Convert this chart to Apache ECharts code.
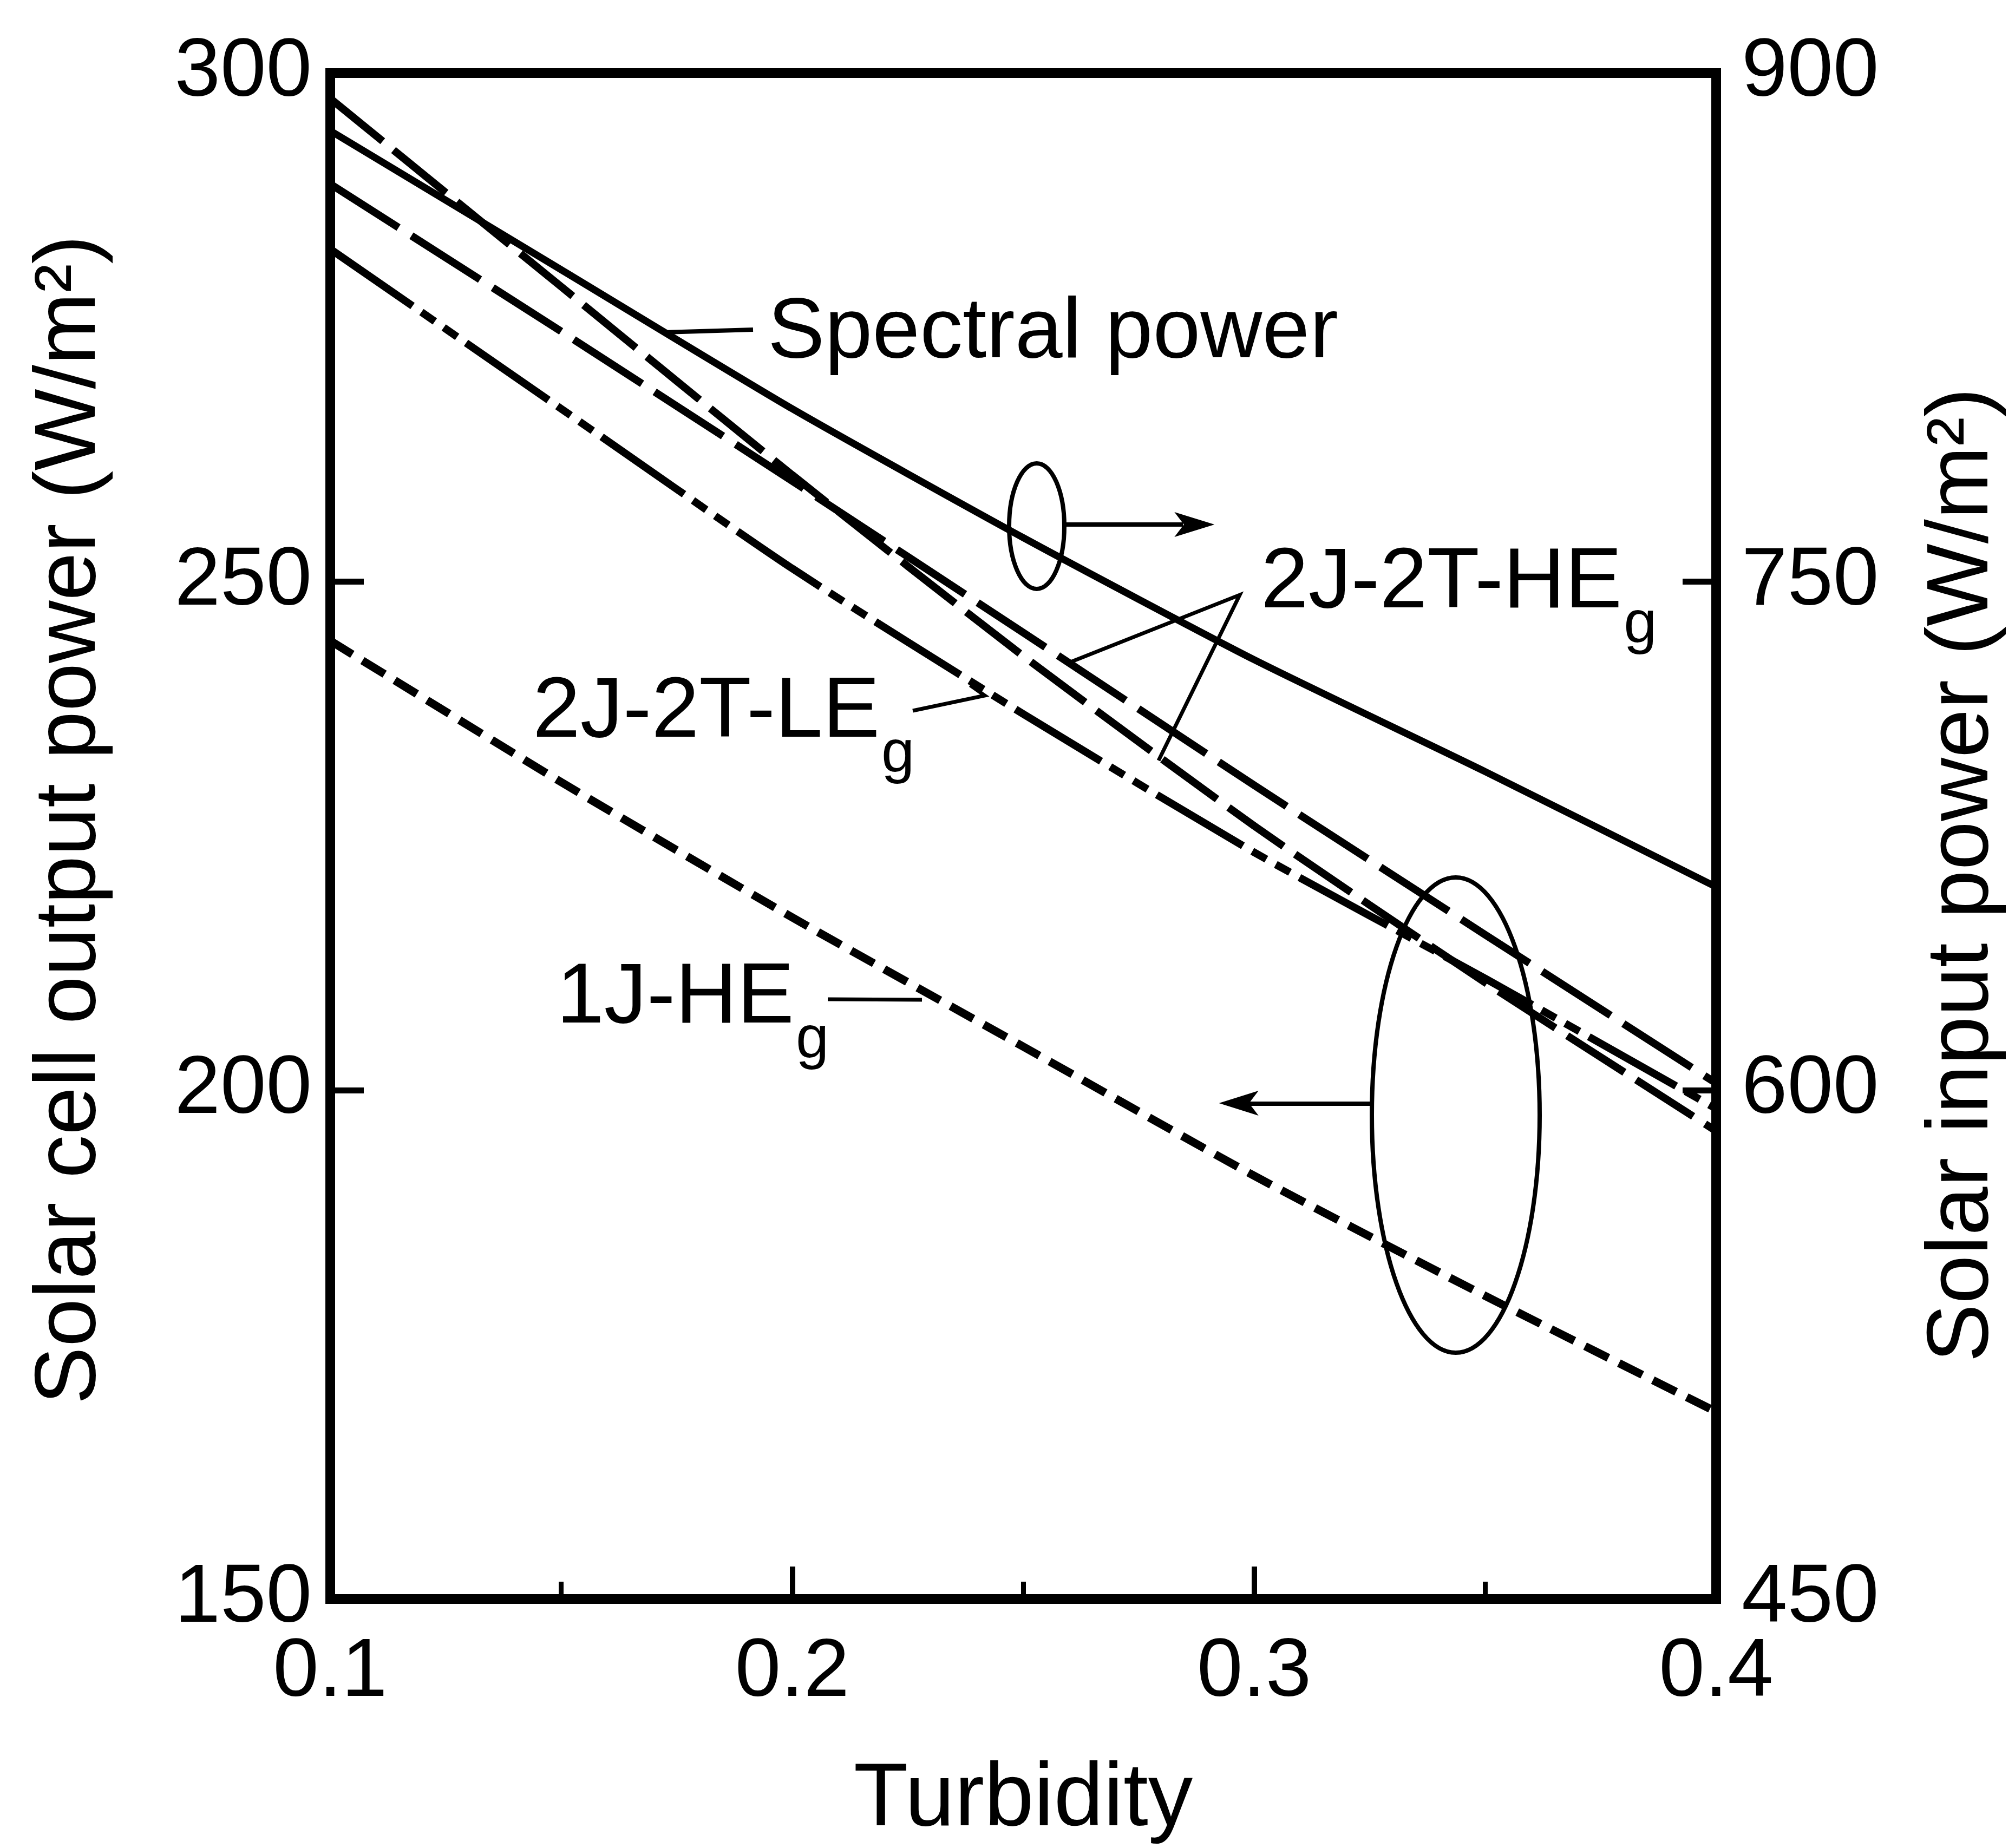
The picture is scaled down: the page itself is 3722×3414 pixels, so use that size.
<!DOCTYPE html>
<html><head><meta charset="utf-8">
<script src="https://cdn.jsdelivr.net/npm/echarts@6/dist/echarts.min.js"></script>
<style>html,body{margin:0;padding:0;background:#fff}#c{width:3722px;height:3414px}</style>
</head><body><div id="c"></div>
<script>
// ---- data ----
const turbidity = [0.1, 0.15, 0.2, 0.25, 0.3, 0.35, 0.4];
const spectralPower = [883, 842, 801, 763, 727, 694, 660];          // right axis (W/m2)
const hEg2J2T_upper = [289.1, 274.6, 259.9, 245.0, 230.0, 215.3, 200.7]; // left axis
const hEg2J2T_steep = [297.5, 279.0, 260.5, 242.7, 226.0, 210.6, 196.0];
const lEg2J2T = [282.7, 267.0, 251.3, 237.0, 223.4, 211.0, 198.2];
const hEg1J = [244.2, 230.3, 217.0, 204.3, 191.6, 179.8, 168.4];
const xTickLabels = ['0.1', '0.2', '0.3', '0.4'];
const leftTickLabels = ['150', '200', '250', '300'];
const rightTickLabels = ['450', '600', '750', '900'];

const FONT = '"Liberation Sans", Arial, Helvetica, sans-serif';
const pairs = (ys) => turbidity.map((x, i) => [x, ys[i]]);

const cv = document.createElement('canvas').getContext('2d');
function textW(s, size) { cv.font = size + 'px ' + FONT; return cv.measureText(s).width; }

const chart = echarts.init(document.getElementById('c'), null, {renderer: 'canvas'});

const axisCommon = {
  axisLine: {show: true, lineStyle: {color: '#000', width: 18, cap: 'square'}},
  splitLine: {show: false},
};

function txt(s, x, y, size) {
  return {type: 'text', x: x, y: y, z: 100,
    style: {text: s, font: size + 'px ' + FONT, fill: '#000',
      textAlign: 'left', textVerticalAlign: 'middle', align: 'left', verticalAlign: 'middle'}};
}
function line(points, w) {
  return {type: 'polyline', z: 100, shape: {points: points}, style: {stroke: '#000', lineWidth: w || 7, fill: 'none'}};
}
function ellipse(cx, cy, rx, ry) {
  return {type: 'ellipse', z: 100, shape: {cx: cx, cy: cy, rx: rx, ry: ry}, style: {stroke: '#000', lineWidth: 8, fill: 'none'}};
}
function poly(points) {
  return {type: 'polygon', z: 100, shape: {points: points}, style: {fill: '#000', stroke: '#000', lineWidth: 2}};
}

const MAIN = 158, SUB = 110;
function labelWithSub(main, x, capCenterY) {
  const w = textW(main, MAIN);
  const baseline = capCenterY + 57;
  return [txt(main, x, capCenterY, MAIN), txt('g', x + w + 3, baseline + 59 - 38, SUB)];
}

const graphics = [].concat(
  [txt('Spectral power', 1418, 616, MAIN), line([[1226, 614], [1391, 609]], 8)],
  [ellipse(1915, 972, 51, 116), line([[1966, 969], [2185, 969]], 8),
   poly([[2240, 969], [2172, 948], [2188, 969], [2172, 990]])],
  [ellipse(2689, 2060, 155, 439), line([[2536, 2039], [2300, 2039]], 8),
   poly([[2255, 2038], [2322, 2017], [2306, 2038], [2322, 2059]])],
  labelWithSub('2J-2T-HE', 2329, 1078),
  [line([[1970, 1226], [2290, 1099], [2140, 1405]], 7)],
  labelWithSub('2J-2T-LE', 984, 1317),
  [line([[1686, 1313], [1819, 1285], [1792, 1266]], 7)],
  labelWithSub('1J-HE', 1028, 1845),
  [line([[1529, 1846], [1703, 1847]], 7)]
);

const option = {
  backgroundColor: '#fff',
  animation: false,
  grid: {left: 610, right: 552, top: 135, bottom: 448, show: true, borderColor: '#000', borderWidth: 18},
  xAxis: Object.assign({}, axisCommon, {
    type: 'value', min: 0.1, max: 0.4, interval: 0.1,
    axisTick: {show: true, inside: true, length: 60, lineStyle: {color: '#000', width: 10}},
    minorTick: {show: true, splitNumber: 2, length: 32, lineStyle: {color: '#000', width: 9}},
    minorSplitLine: {show: false},
    axisLabel: {margin: 61, fontSize: 152, color: '#000', fontFamily: FONT,
      formatter: (v) => xTickLabels[Math.round((v - 0.1) / 0.1)]},
    name: 'Turbidity', nameLocation: 'middle', nameGap: 290,
    nameTextStyle: {fontSize: 165, color: '#000', fontFamily: FONT}
  }),
  yAxis: [
    Object.assign({}, axisCommon, {
      type: 'value', min: 150, max: 300, interval: 50, position: 'left',
      axisTick: {show: true, inside: true, length: 62, lineStyle: {color: '#000', width: 11}},
      axisLabel: {margin: 34, fontSize: 152, color: '#000', fontFamily: FONT,
        formatter: (v) => leftTickLabels[Math.round((v - 150) / 50)]},
      name: 'Solar cell output power (W/m²)', nameLocation: 'middle', nameGap: 399, nameRotate: 90,
      nameTextStyle: {fontSize: 160, color: '#000', fontFamily: FONT, padding: [0, 0, 0, 60]}
    }),
    Object.assign({}, axisCommon, {
      type: 'value', min: 450, max: 900, interval: 150, position: 'right',
      axisTick: {show: true, inside: true, length: 62, lineStyle: {color: '#000', width: 11}},
      axisLabel: {margin: 47, fontSize: 152, color: '#000', fontFamily: FONT,
        formatter: (v) => rightTickLabels[Math.round((v - 450) / 150)]},
      name: 'Solar input power (W/m²)', nameLocation: 'middle', nameGap: 375, nameRotate: 90,
      nameTextStyle: {fontSize: 162, color: '#000', fontFamily: FONT, padding: [0, 144, 0, 0]}
    })
  ],
  series: [
    {name: 'Spectral power', type: 'line', yAxisIndex: 1, data: pairs(spectralPower), symbol: 'none', smooth: 0.2,
      lineStyle: {color: '#000', width: 13, type: 'solid'}},
    {name: '2J-2T-HEg (a)', type: 'line', yAxisIndex: 0, data: pairs(hEg2J2T_upper), symbol: 'none', smooth: 0.2,
      lineStyle: {color: '#000', width: 14, type: [150, 28]}},
    {name: '2J-2T-HEg (b)', type: 'line', yAxisIndex: 0, data: pairs(hEg2J2T_steep), symbol: 'none', smooth: 0.2,
      lineStyle: {color: '#000', width: 14, type: [125, 26]}},
    {name: '2J-2T-LEg', type: 'line', yAxisIndex: 0, data: pairs(lEg2J2T), symbol: 'none', smooth: 0.2,
      lineStyle: {color: '#000', width: 14, type: [185, 20, 30, 20, 30, 20]}},
    {name: '1J-HEg', type: 'line', yAxisIndex: 0, data: pairs(hEg1J), symbol: 'none', smooth: 0.2,
      lineStyle: {color: '#000', width: 15, type: [48, 22]}}
  ],
  graphic: graphics
};
chart.setOption(option);
</script></body></html>
